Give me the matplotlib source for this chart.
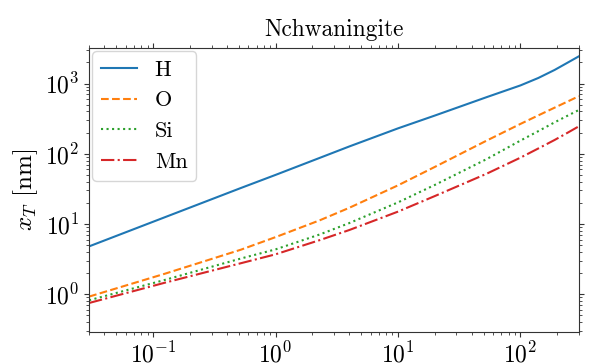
import matplotlib
matplotlib.use("Agg")
import matplotlib.pyplot as plt

# フォント設定 (Computer Modern 風)
plt.rcParams['font.family'] = ['cmr10', 'DejaVu Serif']
plt.rcParams['mathtext.fontset'] = 'cm'
plt.rcParams['axes.formatter.use_mathtext'] = True
plt.rcParams['axes.unicode_minus'] = False

# データ
x = [0.03, 0.125, 0.52, 1, 2.3, 4, 10, 20, 53, 100, 140, 190, 240, 300]
H = [4.8, 12.5, 32.5, 50, 87.5, 127, 230, 350, 640, 940, 1200, 1560, 1960, 2440]
O = [0.925, 1.96, 4.3, 6.5, 11.3, 17, 35.5, 65, 154, 266, 352, 453, 549, 660]
Si = [0.82, 1.6, 3.22, 4.35, 7.1, 10.3, 20.3, 36, 84, 154, 210, 280, 345, 420]
Mn = [0.75, 1.46, 2.76, 3.7, 5.9, 8.2, 15, 25, 52, 88, 119, 157, 197, 246]
labels = ['H', 'O', 'Si', 'Mn']

fig = plt.figure(figsize=(5.98, 3.64), dpi=100)
ax = fig.add_axes([0.149, 0.088, 0.819, 0.78])

ax.plot(x, H, color='C0', ls='-', lw=1.5, label=labels[0])
ax.plot(x, O, color='C1', ls='--', lw=1.5, label=labels[1])
ax.plot(x, Si, color='C2', ls=':', lw=1.5, label=labels[2])
ax.plot(x, Mn, color='C3', ls='-.', lw=1.5, label=labels[3])

ax.set_xscale('log')
ax.set_yscale('log')
ax.set_xlim(0.03, 300)
ax.set_ylim(0.29, 3200)

for s in ax.spines.values():
    s.set_color('0.2')
ax.tick_params(which='both', top=True, right=True, color='0.2', labelsize=17)

ax.set_title('Nchwaningite', fontsize=16.8, pad=9)
ax.set_ylabel(r'$x_T$ [nm]', fontsize=18)
ax.legend(loc='upper left', fontsize=16, borderaxespad=0.15, handlelength=1.6)

fig.savefig('out.png', dpi=100)
